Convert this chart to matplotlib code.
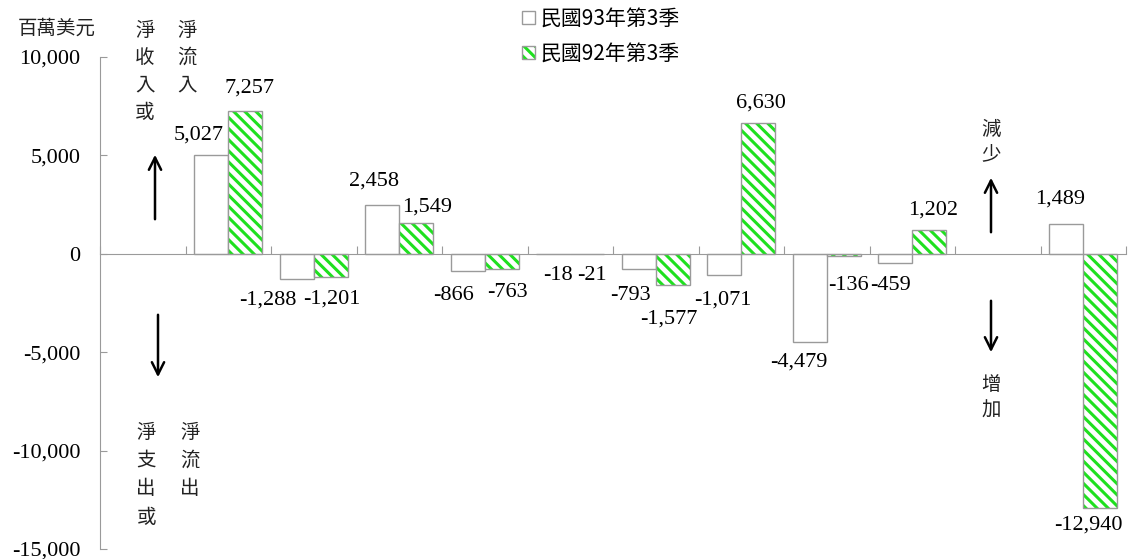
import numpy as np
import matplotlib
matplotlib.use("Agg")
import matplotlib.pyplot as plt
from matplotlib.legend_handler import HandlerTuple

# 資料 (百萬美元)
slots = list(range(12))          # 12 個類別位置, 第 0 與第 10 為空白
y93 = [np.nan, 5027, -1288, 2458, -866, -18, -793, -1071, -4479, -459, np.nan, 1489]
y92 = [np.nan, 7257, -1201, 1549, -763, -21, -1577, 6630, -136, 1202, np.nan, -12940]
series_names = ["民國93年第3季", "民國92年第3季"]
yticks = [10000, 5000, 0, -5000, -10000, -15000]

# 數字標籤的位移 (像素: dx, dy 向上為正)
off93 = [None, (-12, 20), (-29, -21), (-8, 24), (-14, -25), (5, -21),
         (-8, -26), (-1, -25), (-11, -20), (-5, -23), None, (-6, 25)]
off92 = [None, (4, 23), (1, -22), (11, 16), (6, -24), (5, -21),
         (-4, -34), (3, 20), (5, -29), (4, 20), None, (-12, -17)]

CJK = ["Noto Sans CJK TC", "DejaVu Sans"]
NUM = ["Liberation Serif", "DejaVu Serif"]
GRAY = "#9a9a9a"
GREEN = "#1fe01f"

plt.rcParams["hatch.linewidth"] = 2.2

W, H = 1128, 559
fig = plt.figure(figsize=(W / 100, H / 100), dpi=100)
ax = fig.add_axes([100 / W, 1 - 549 / H, 1026 / W, 492 / H])

x = np.array(slots, dtype=float)
b93 = ax.bar(x - 0.2, y93, width=0.4, facecolor="white", edgecolor=GRAY,
             linewidth=1.0, zorder=3)
# 綠色斜線 + 灰色外框
b92h = ax.bar(x + 0.2, y92, width=0.4, facecolor="white", edgecolor=GREEN,
              hatch="\\\\\\", linewidth=0, zorder=3)
b92 = ax.bar(x + 0.2, y92, width=0.4, fill=False, edgecolor=GRAY,
             linewidth=1.0, zorder=3.5)

ax.set_xlim(-0.5, 11.5)
ax.set_ylim(-15000, 10000)
ax.set_yticks(yticks)
ax.set_yticklabels([f"{v:,}" for v in yticks], family=NUM, fontsize=16)
ax.tick_params(axis="y", direction="in", length=5, color=GRAY, pad=14)

ax.spines["bottom"].set_position(("data", 0))
ax.spines["bottom"].set_color(GRAY)
ax.spines["bottom"].set_zorder(4)
ax.spines["left"].set_color(GRAY)
ax.spines["top"].set_visible(False)
ax.spines["right"].set_visible(False)
ax.set_xticks(np.arange(-0.5, 12, 1.0))
ax.set_xticklabels([])
ax.tick_params(axis="x", direction="in", length=6, color=GRAY)

# 數值標籤
for vals, offs, dxs in ((y93, off93, -0.2), (y92, off92, 0.2)):
    for i, v in enumerate(vals):
        if np.isnan(v):
            continue
        dx, dy = offs[i]
        ax.annotate(f"{int(v):,}", (i + dxs, v), xytext=(dx * 0.72, dy * 0.72),
                    textcoords="offset points", ha="center", va="center",
                    family=NUM, fontsize=16, zorder=5)


def fx(px):
    return px / W


def fy(py):
    return 1 - py / H


def column(chars, cx, cy, step=27.5):
    for k, ch in enumerate(chars):
        fig.text(fx(cx), fy(cy + k * step), ch, ha="center", va="center",
                 family=CJK, fontsize=14, color="#222222")


def arrow(xp, y_tail, y_tip):
    ax.annotate("", xy=(xp, H - y_tip), xytext=(xp, H - y_tail),
                xycoords="figure pixels", textcoords="figure pixels",
                arrowprops=dict(arrowstyle="->", lw=1.8, color="black",
                                mutation_scale=22))


fig.text(fx(57), fy(28), "百萬美元", ha="center", va="center",
         family=CJK, fontsize=14, color="#222222")

column("淨收入或", 145, 30)
column("淨流入", 187, 30)
column("淨支出或", 146, 432, 28.5)
column("淨流出", 190, 432, 28.5)
column("減少", 991, 129, 24.5)
column("增加", 991, 385, 25)

arrow(155, 222, 152)
arrow(158, 312, 380)
arrow(991, 235, 175)
arrow(991, 298, 355)

fig.legend([b93, (b92h, b92)], series_names, loc="upper left",
           handler_map={tuple: HandlerTuple(ndivide=1, pad=0)},
           bbox_to_anchor=(fx(522), fy(8)), frameon=False,
           prop={"family": CJK, "size": 15}, handlelength=0.6,
           handleheight=0.6, handletextpad=0.3, labelspacing=0.6,
           borderpad=0, borderaxespad=0)

fig.savefig("out.png", dpi=100)
